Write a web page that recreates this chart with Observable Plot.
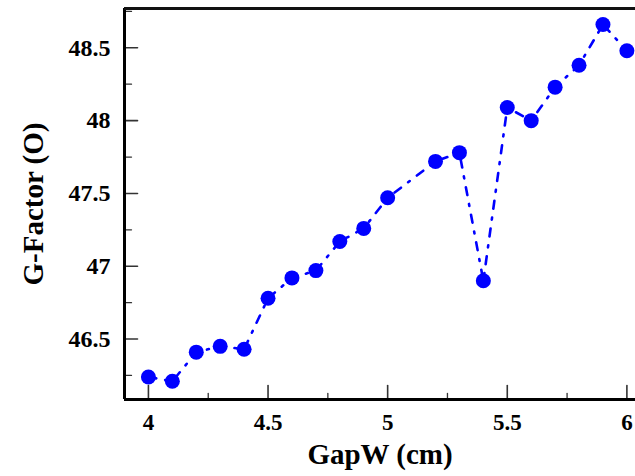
<!DOCTYPE html>
<html><head><meta charset="utf-8">
<script src="https://cdn.jsdelivr.net/npm/d3@7"></script>
<script src="https://cdn.jsdelivr.net/npm/@observablehq/plot@0.6"></script>
<style>
body{margin:0;background:#fff}
#chart svg, #chart svg text, #chart svg g{font-family:"Liberation Serif","Times New Roman",Tinos,"DejaVu Serif",serif !important;font-weight:bold}
g[aria-label="x-axis label"], g[aria-label="y-axis label"]{font-size:29px}
</style>
</head><body><div id="chart"></div>
<script>
const gapW = [4.0, 4.1, 4.2, 4.3, 4.4, 4.5, 4.6, 4.7, 4.8, 4.9, 5.0, 5.2, 5.3, 5.4, 5.5, 5.6, 5.7, 5.8, 5.9, 6.0];
const gFactor = [46.24, 46.21, 46.41, 46.45, 46.43, 46.78, 46.92, 46.97, 47.17, 47.26, 47.47, 47.72, 47.78, 46.90, 48.09, 48.00, 48.23, 48.38, 48.66, 48.48];
const xTicks = [4, 4.5, 5, 5.5, 6];
const xMinorTicks = [4.25, 4.75, 5.25, 5.75];
const yTicks = [46.5, 47, 47.5, 48, 48.5];
const yMinorTicks = [46.25, 46.75, 47.25, 47.75, 48.25, 48.75];
const xDomain = [3.9, 6.036];
const yDomain = [46.085, 48.77];
const xLabel = "GapW (cm)";
const yLabel = "G-Factor (O)";

const data = gapW.map((x, i) => ({x, y: gFactor[i]}));
const fmt = d => String(d);
const tickShape = {draw(context, l) { context.moveTo(0, 0); context.lineTo(0, -l); }};

const chart = Plot.plot({
  width: 635,
  height: 476,
  marginLeft: 124,
  marginRight: 0,
  marginTop: 8,
  marginBottom: 77,
  x: {domain: xDomain},
  y: {domain: yDomain},
  style: {fontFamily: "Liberation Serif", fontWeight: "bold", background: "#fff", color: "#000", overflow: "visible"},
  marks: [
    Plot.axisX({ticks: xTicks, tickSize: 0, tickPadding: 14, fontSize: 23, tickFormat: fmt, label: xLabel, labelAnchor: "center", labelArrow: "none", labelOffset: 64}),
    Plot.axisY({ticks: yTicks, tickSize: 0, tickPadding: 14, fontSize: 24, tickFormat: fmt, label: yLabel, labelAnchor: "center", labelArrow: "none", labelOffset: 102}),
    Plot.vector(xTicks, {x: d => d, y: yDomain[0], length: 14, rotate: 0, anchor: "start", shape: tickShape, stroke: "#333", strokeWidth: 1.6}),
    Plot.vector(xMinorTicks, {x: d => d, y: yDomain[0], length: 6, rotate: 0, anchor: "start", shape: tickShape, stroke: "#333", strokeWidth: 1.3}),
    Plot.vector(yTicks, {x: xDomain[0], y: d => d, length: 13, rotate: 90, anchor: "start", shape: tickShape, stroke: "#333", strokeWidth: 1.6}),
    Plot.vector(yMinorTicks, {x: xDomain[0], y: d => d, length: 7, rotate: 90, anchor: "start", shape: tickShape, stroke: "#333", strokeWidth: 1.3}),
    Plot.ruleX([xDomain[0]], {stroke: "#000", strokeWidth: 3}),
    Plot.ruleY([yDomain[0]], {stroke: "#000", strokeWidth: 3}),
    Plot.ruleY([yDomain[1]], {stroke: "#111", strokeWidth: 3}),
    Plot.line(data, {x: "x", y: "y", stroke: "#0000ff", strokeWidth: 2.6, strokeDasharray: "8,9,2,9"}),
    Plot.dot(data, {x: "x", y: "y", r: 7.5, fill: "#0000ff", stroke: "none"})
  ]
});
document.getElementById("chart").appendChild(chart);
</script>
</body></html>
